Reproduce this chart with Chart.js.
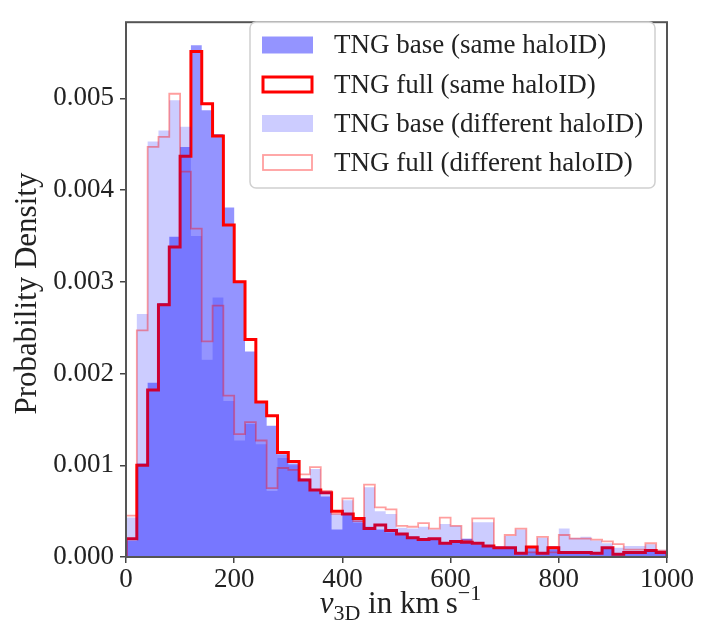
<!DOCTYPE html>
<html><head><meta charset="utf-8">
<script src="https://cdn.jsdelivr.net/npm/chart.js@4.4.1/dist/chart.umd.min.js"></script>
<style>html,body{margin:0;padding:0;background:#fff}#wrap{width:701px;height:636px;position:relative}</style>
</head><body><div id="wrap"><canvas id="c" width="701" height="636"></canvas></div>
<script>
// bin edges in km/s (20 km/s bins)
const binEdges = [0,20,40,60,80,100,120,140,160,180,200,220,240,260,280,300,320,340,360,380,400,420,440,460,480,500,520,540,560,580,600,620,640,660,680,700,720,740,760,780,800,820,840,860,880,900,920,940,960,980,1000];
const baseSame = [0.00018,0.00102,0.00190,0.00277,0.00349,0.00447,0.00558,0.00487,0.00461,0.00381,0.00300,0.00224,0.00170,0.00143,0.00112,0.00102,0.00083,0.00072,0.00066,0.00030,0.00046,0.00040,0.00033,0.00030,0.00027,0.00024,0.00022,0.00018,0.00020,0.00016,0.00018,0.00020,0.00014,0.00013,0.00011,0.00009,0.00005,0.00012,0.00005,0.00012,0.00006,0.00004,0.00006,0.00004,0.00009,0.00004,0.00004,0.00006,0.00006,0.00006];
const fullSame = [0.00020,0.00100,0.00182,0.00275,0.00338,0.00437,0.00551,0.00494,0.00459,0.00362,0.00300,0.00237,0.00169,0.00154,0.00114,0.00104,0.00084,0.00073,0.00070,0.00050,0.00047,0.00042,0.00031,0.00035,0.00029,0.00025,0.00021,0.00019,0.00020,0.00015,0.00017,0.00016,0.00015,0.00012,0.00010,0.00010,0.00004,0.00011,0.00004,0.00010,0.00005,0.00005,0.00005,0.00004,0.00010,0.00003,0.00005,0.00005,0.00007,0.00005];
const baseDiff = [0.00043,0.00265,0.00453,0.00465,0.00498,0.00469,0.00350,0.00215,0.00283,0.00170,0.00127,0.00145,0.00123,0.00072,0.00108,0.00100,0.00086,0.00096,0.00072,0.00047,0.00062,0.00037,0.00076,0.00050,0.00047,0.00032,0.00031,0.00033,0.00030,0.00036,0.00034,0.00020,0.00038,0.00038,0.00012,0.00023,0.00030,0.00006,0.00021,0.00008,0.00031,0.00021,0.00022,0.00018,0.00015,0.00010,0.00012,0.00012,0.00014,0.00008];
const fullDiff = [0.00045,0.00247,0.00447,0.00458,0.00505,0.00420,0.00358,0.00235,0.00274,0.00176,0.00134,0.00147,0.00127,0.00075,0.00097,0.00095,0.00090,0.00098,0.00072,0.00047,0.00064,0.00039,0.00079,0.00054,0.00052,0.00034,0.00033,0.00037,0.00031,0.00043,0.00034,0.00018,0.00042,0.00042,0.00010,0.00024,0.00031,0.00005,0.00022,0.00005,0.00024,0.00020,0.00020,0.00019,0.00017,0.00014,0.00008,0.00008,0.00015,0.00007];
const xTicks = [0,200,400,600,800,1000];
const yTicks = [0.000,0.001,0.002,0.003,0.004,0.005];
const seriesNames = ['TNG base (same haloID)','TNG full (same haloID)','TNG base (different haloID)','TNG full (different haloID)'];
const yTitle = 'Probability Density';

const SERIF = '"Liberation Serif", "DejaVu Serif", serif';
const COL_BASE_SAME = 'rgba(0,0,255,0.42)';
const COL_BASE_DIFF = 'rgba(0,0,255,0.20)';
const COL_FULL_SAME = 'rgb(255,0,0)';
const COL_FULL_DIFF = 'rgba(255,0,0,0.38)';

function stepPoints(vals){
  const pts=[{x:binEdges[0],y:0}];
  for(let i=0;i<vals.length;i++) pts.push({x:binEdges[i],y:vals[i]});
  pts.push({x:binEdges[vals.length],y:0});
  return pts;
}

const framePlugin = {
  id:'frame',
  afterDraw(chart){
    const {ctx, chartArea:a} = chart;
    ctx.save();
    ctx.strokeStyle='#555'; ctx.lineWidth=2;
    ctx.strokeRect(a.left, a.top, a.right-a.left, a.bottom-a.top);
    // legend
    const bx=250, by=22, bw=405, bh=166;
    ctx.beginPath();
    ctx.roundRect(bx,by,bw,bh,6);
    ctx.fillStyle='rgba(255,255,255,0.85)'; ctx.fill();
    ctx.strokeStyle='#d0d0d0'; ctx.lineWidth=1.5; ctx.stroke();
    const rows=[45,84.5,123.5,162.5];
    const sx=262, sw=51, sh=17;
    ctx.font='27px '+SERIF; ctx.textBaseline='middle'; ctx.textAlign='left';
    rows.forEach((cy,i)=>{
      if(i===0||i===2){
        ctx.fillStyle = i===0?COL_BASE_SAME:COL_BASE_DIFF;
        ctx.fillRect(sx,cy-sh/2,sw,sh);
      } else {
        ctx.strokeStyle = i===1?COL_FULL_SAME:COL_FULL_DIFF;
        ctx.lineWidth = i===1?3:1.8;
        ctx.strokeRect(sx+1,cy-sh/2+1,sw-2,sh-2);
      }
      ctx.fillStyle='#222';
      ctx.fillText(seriesNames[i], 334, cy+1);
    });
    // y title
    ctx.save();
    ctx.translate(28, (a.top+a.bottom)/2+4);
    ctx.rotate(-Math.PI/2);
    ctx.textAlign='center'; ctx.textBaseline='middle';
    ctx.font='31px '+SERIF; ctx.fillStyle='#222';
    ctx.fillText(yTitle,0,0);
    ctx.restore();
    // x title: v_{3D} in km s^{-1}
    const parts=[
      {t:'v', f:'italic 31px '+SERIF, dy:0},
      {t:'3D', f:'22px '+SERIF, dy:7},
      {t:' in km\u2009s', f:'31px '+SERIF, dy:0},
      {t:'\u22121', f:'22px '+SERIF, dy:-13}
    ];
    let tw=0; parts.forEach(p=>{ctx.font=p.f; p.w=ctx.measureText(p.t).width; tw+=p.w;});
    let x=(a.left+a.right)/2 - tw/2 + 4; const base=613;
    ctx.textAlign='left'; ctx.textBaseline='alphabetic'; ctx.fillStyle='#222';
    parts.forEach(p=>{ctx.font=p.f; ctx.fillText(p.t,x,base+p.dy); x+=p.w;});
    ctx.restore();
  }
};

new Chart(document.getElementById('c'),{
  type:'line',
  data:{datasets:[
    {label:seriesNames[0], data:stepPoints(baseSame), stepped:true, fill:'origin', backgroundColor:COL_BASE_SAME, borderWidth:0, borderColor:'rgba(0,0,0,0)', pointRadius:0, order:4},
    {label:seriesNames[1], data:stepPoints(fullSame), stepped:true, fill:false, borderColor:COL_FULL_SAME, borderWidth:3, pointRadius:0, order:3},
    {label:seriesNames[2], data:stepPoints(baseDiff), stepped:true, fill:'origin', backgroundColor:COL_BASE_DIFF, borderWidth:0, borderColor:'rgba(0,0,0,0)', pointRadius:0, order:2},
    {label:seriesNames[3], data:stepPoints(fullDiff), stepped:true, fill:false, borderColor:COL_FULL_DIFF, borderWidth:1.8, pointRadius:0, order:1}
  ]},
  options:{
    responsive:false, animation:false, devicePixelRatio:1,
    layout:{padding:{left:0,right:34,top:13,bottom:0}},
    plugins:{legend:{display:false}, tooltip:{enabled:false}},
    elements:{line:{tension:0}},
    scales:{
      x:{type:'linear', min:0, max:1000,
        afterBuildTicks:s=>{s.ticks=xTicks.map(v=>({value:v}));},
        afterFit:s=>{s.height=79;},
        grid:{drawOnChartArea:false, drawTicks:true, tickLength:6, color:'#444', lineWidth:1.5},
        border:{display:false},
        ticks:{font:{family:SERIF,size:27}, color:'#222', padding:1, maxRotation:0, callback:v=>String(v)}
      },
      y:{type:'linear', min:0, max:0.00583,
        afterBuildTicks:s=>{s.ticks=yTicks.map(v=>({value:v}));},
        afterFit:s=>{s.width=126;},
        grid:{drawOnChartArea:false, drawTicks:true, tickLength:6, color:'#444', lineWidth:1.5},
        border:{display:false},
        ticks:{font:{family:SERIF,size:27}, color:'#222', padding:6, callback:v=>Number(v).toFixed(3)}
      }
    }
  },
  plugins:[framePlugin]
});
</script></body></html>
